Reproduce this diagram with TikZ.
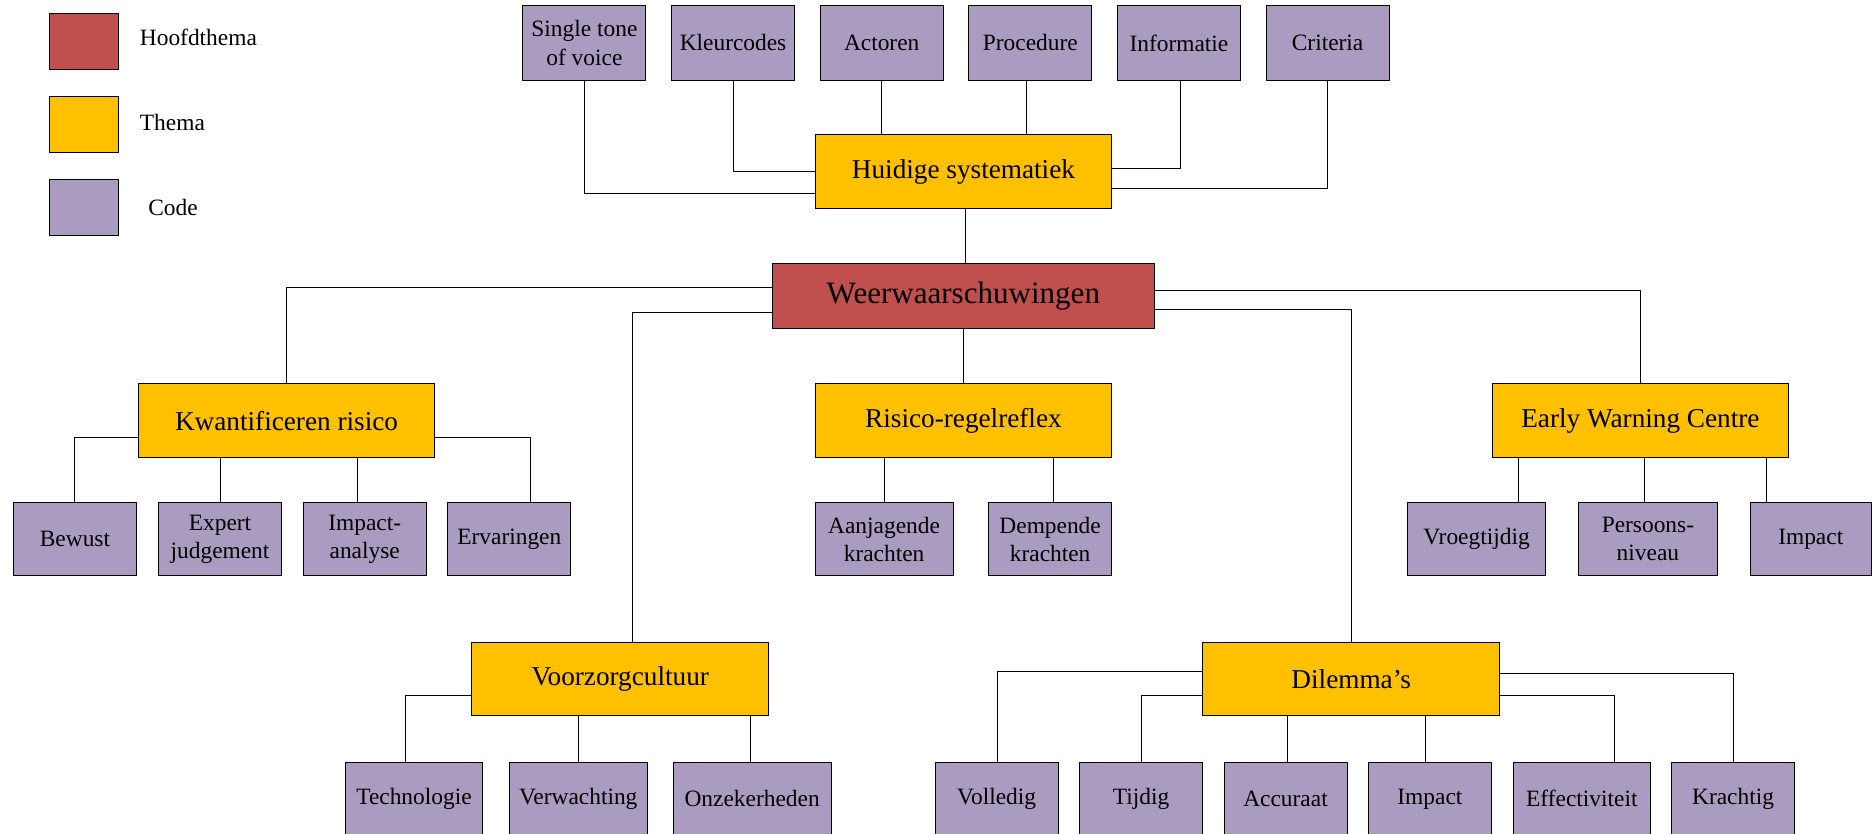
\documentclass[tikz,border=0pt]{standalone}
\usepackage{fontspec}
\setmainfont{Liberation Serif}
\usetikzlibrary{calc}
\definecolor{hoofdc}{RGB}{192,80,77}
\definecolor{themac}{RGB}{255,192,0}
\definecolor{codec}{RGB}{170,155,193}
\newcommand{\codefont}{\fontsize{19.6}{23.5}\selectfont}
\newcommand{\themafont}{\fontsize{22.8}{27}\selectfont}
\newcommand{\hoofdfont}{\fontsize{26}{30}\selectfont}
\tikzset{
  box/.style={draw=black, line width=0.8pt, inner sep=0pt, align=center, rectangle},
  codebox/.style={box, fill=codec, minimum width=103pt, minimum height=61.4pt, font=\codefont},
  themabox/.style={box, fill=themac, minimum width=248.6pt, minimum height=61.4pt, font=\themafont},
  hoofdbox/.style={box, fill=hoofdc, minimum width=320.1pt, minimum height=55pt, font=\hoofdfont},
  legbox/.style={box, minimum width=57.5pt, minimum height=46.8pt},
  leglabel/.style={anchor=west, inner sep=0pt, font=\codefont},
  conn/.style={draw=black, line width=0.8pt}
}
\begin{document}
\begin{tikzpicture}[x=1pt, y=-1pt]
\clip (0,0) rectangle (1568,698);
\fill[white] (0,0) rectangle (1568,698);

% legend
\node[legbox, fill=hoofdc] (lh) at (70.25,34.6) {};
\node[legbox, fill=themac] (lt) at (70.25,104.3) {};
\node[legbox, fill=codec] (lc) at (70.25,174.1) {};
\node[leglabel] (lhl) at (117,31.3) {Hoofdthema};
\node[leglabel] (ltl) at (117,103) {Thema};
\node[leglabel] (lcl) at (124,173.6) {Code};

% top codes
\node[codebox, minimum height=62pt] (single) at (489.5,36) {Single tone\\of voice};
\node[codebox, minimum height=62pt] (kleur) at (614,36) {Kleurcodes};
\node[codebox, minimum height=62pt] (actoren) at (738.5,36) {Actoren};
\node[codebox, minimum height=62pt] (procedure) at (863,36) {Procedure};
\node[codebox, minimum height=62pt] (informatie) at (987.5,36) {Informatie};
\node[codebox, minimum height=62pt] (criteria) at (1112,36) {Criteria};

% themes
\node[themabox, minimum height=61.7pt] (huidige) at (807,143.7) {Huidige systematiek};
\node[hoofdbox] (weer) at (806.9,248) {Weerwaarschuwingen};
\node[themabox] (kwant) at (240,352.3) {Kwantificeren risico};
\node[themabox] (risico) at (807,352.3) {Risico-regelreflex};
\node[themabox] (ewc) at (1374,352.3) {Early Warning Centre};
\node[themabox] (voorzorg) at (519.5,568.7) {Voorzorgcultuur};
\node[themabox] (dilemma) at (1131.75,568.7) {Dilemma’s};

% kwant codes
\node[codebox, minimum width=103.2pt] (bewust) at (62.8,451.7) {Bewust};
\node[codebox, minimum width=103.2pt] (expert) at (184.3,451.7) {Expert\\judgement};
\node[codebox, minimum width=103.2pt] (impanal) at (305.5,451.7) {Impact-\\analyse};
\node[codebox, minimum width=103.2pt] (ervaring) at (426.6,451.7) {Ervaringen};

% risico codes
\node[codebox, minimum width=115.5pt] (aanj) at (740.5,451.7) {Aanjagende\\krachten};
\node[codebox] (demp) at (879.6,451.7) {Dempende\\krachten};

% ewc codes
\node[codebox, minimum width=116pt] (vroeg) at (1236.7,451.7) {Vroegtijdig};
\node[codebox, minimum width=116.2pt] (persoons) at (1380.3,451.7) {Persoons-\\niveau};
\node[codebox, minimum width=101pt] (impewc) at (1516.7,451.7) {Impact};

% voorzorg codes
\node[codebox, minimum width=115.5pt] (techn) at (346.75,669.1) {Technologie};
\node[codebox, minimum width=115.5pt] (verw) at (484.35,669.1) {Verwachting};
\node[codebox, minimum width=132.4pt] (onzek) at (630,669.1) {Onzekerheden};

% dilemma codes
\node[codebox] (volledig) at (834.75,669.1) {Volledig};
\node[codebox] (tijdig) at (955.75,669.1) {Tijdig};
\node[codebox] (accuraat) at (1076.75,669.1) {Accuraat};
\node[codebox] (impdil) at (1197.7,669.1) {Impact};
\node[codebox, minimum width=115.3pt] (effect) at (1324.95,669.1) {Effectiviteit};
\node[codebox] (kracht) at (1451.6,669.1) {Krachtig};

% connectors: top
\draw[conn] (single.south) |- (huidige.west |- 0,162);
\draw[conn] (kleur.south) |- (huidige.west |- 0,143.8);
\draw[conn] (actoren.south) -- (actoren.south |- huidige.north);
\draw[conn] (procedure.south -| 860,0) -- (huidige.north -| 860,0);
\draw[conn] (informatie.south -| 989,0) |- (huidige.east |- 0,141);
\draw[conn] (criteria.south) |- (huidige.east |- 0,157.7);
\draw[conn] (huidige.south -| 809,0) -- (weer.north -| 809,0);

% connectors: main
\draw[conn] (weer.west |- 0,241) -| (kwant.north);
\draw[conn] (weer.west |- 0,261.6) -| (voorzorg.north -| 529.8,0);
\draw[conn] (weer.south -| 806.9,0) -- (risico.north -| 806.9,0);
\draw[conn] (weer.east |- 0,243.7) -| (ewc.north);
\draw[conn] (weer.east |- 0,259.6) -| (dilemma.north);

% kwant children
\draw[conn] (kwant.west |- 0,366.3) -| (bewust.north);
\draw[conn] (kwant.south -| expert.north) -- (expert.north);
\draw[conn] (kwant.south -| 299.1,0) -- (impanal.north -| 299.1,0);
\draw[conn] (kwant.east |- 0,366.3) -| (ervaring.north -| 444.2,0);

% risico children
\draw[conn] (risico.south -| aanj.north) -- (aanj.north);
\draw[conn] (risico.south -| 882.7,0) -- (demp.north -| 882.7,0);

% ewc children
\draw[conn] (ewc.south -| 1272.1,0) -- (vroeg.north -| 1272.1,0);
\draw[conn] (ewc.south -| 1377.8,0) -- (persoons.north -| 1377.8,0);
\draw[conn] (ewc.south -| 1479.6,0) -- (impewc.north -| 1479.6,0);

% voorzorg children
\draw[conn] (voorzorg.west |- 0,582.6) -| (techn.north -| 339.9,0);
\draw[conn] (voorzorg.south -| verw.north) -- (verw.north);
\draw[conn] (voorzorg.south -| 628.9,0) -- (onzek.north -| 628.9,0);

% dilemma children
\draw[conn] (dilemma.west |- 0,562.5) -| (volledig.north -| 835.3,0);
\draw[conn] (dilemma.west |- 0,582.7) -| (tijdig.north -| 955.8,0);
\draw[conn] (dilemma.south -| 1078.8,0) -- (accuraat.north -| 1078.8,0);
\draw[conn] (dilemma.south -| 1194.1,0) -- (impdil.north -| 1194.1,0);
\draw[conn] (dilemma.east |- 0,582.7) -| (effect.north -| 1351.9,0);
\draw[conn] (dilemma.east |- 0,564.2) -| (kracht.north -| 1452.1,0);
\end{tikzpicture}
\end{document}
